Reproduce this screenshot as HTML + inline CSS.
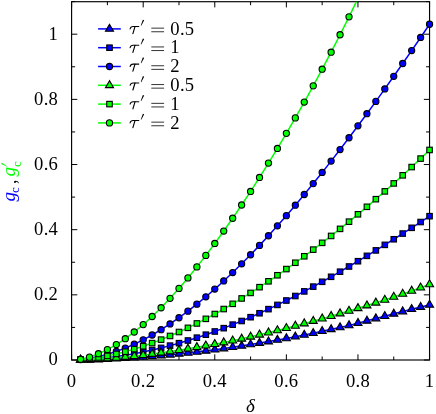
<!DOCTYPE html>
<html><head><meta charset="utf-8"><title>plot</title>
<style>
html,body{margin:0;padding:0;background:#fff;}
svg{display:block;will-change:transform;}
text{font-family:"Liberation Serif",serif;fill:#000;}
.n{letter-spacing:0.3px;}
</style></head><body>
<svg width="436" height="414" viewBox="0 0 436 414">
<rect x="0" y="0" width="436" height="414" fill="#fff"/>
<defs><clipPath id="cp"><rect x="71.60" y="1.70" width="357.95" height="358.30"/></clipPath></defs>
<g stroke="#000" stroke-width="1.00" fill="none" stroke-linecap="butt">
<path d="M71.60 360.00V354.30M71.60 1.70V7.40"/>
<path d="M107.40 360.00V356.50M107.40 1.70V5.20"/>
<path d="M143.19 360.00V354.30M143.19 1.70V7.40"/>
<path d="M178.99 360.00V356.50M178.99 1.70V5.20"/>
<path d="M214.78 360.00V354.30M214.78 1.70V7.40"/>
<path d="M250.58 360.00V356.50M250.58 1.70V5.20"/>
<path d="M286.37 360.00V354.30M286.37 1.70V7.40"/>
<path d="M322.17 360.00V356.50M322.17 1.70V5.20"/>
<path d="M357.96 360.00V354.30M357.96 1.70V7.40"/>
<path d="M393.75 360.00V356.50M393.75 1.70V5.20"/>
<path d="M429.55 360.00V354.30M429.55 1.70V7.40"/>
<path d="M71.60 360.00H77.30M429.55 360.00H423.85"/>
<path d="M71.60 327.42H75.10M429.55 327.42H426.05"/>
<path d="M71.60 294.84H77.30M429.55 294.84H423.85"/>
<path d="M71.60 262.26H75.10M429.55 262.26H426.05"/>
<path d="M71.60 229.68H77.30M429.55 229.68H423.85"/>
<path d="M71.60 197.10H75.10M429.55 197.10H426.05"/>
<path d="M71.60 164.52H77.30M429.55 164.52H423.85"/>
<path d="M71.60 131.94H75.10M429.55 131.94H426.05"/>
<path d="M71.60 99.36H77.30M429.55 99.36H423.85"/>
<path d="M71.60 66.78H75.10M429.55 66.78H426.05"/>
<path d="M71.60 34.20H77.30M429.55 34.20H423.85"/>
<path d="M71.60 1.62H75.10M429.55 1.62H426.05"/>
<rect x="71.60" y="1.70" width="357.95" height="358.30" stroke-width="1.15"/>
</g>
<polyline clip-path="url(#cp)" fill="none" stroke="#0000ff" stroke-width="1.50" points="80.55,359.84 89.50,359.80 98.45,359.53 107.40,359.17 116.34,358.70 125.29,358.21 134.24,357.57 143.19,356.90 152.14,356.25 161.09,355.57 170.04,354.75 178.99,353.84 187.93,352.88 196.88,351.88 205.83,350.81 214.78,349.69 223.73,348.53 232.68,347.23 241.63,345.86 250.58,344.43 259.52,343.03 268.47,341.56 277.42,340.00 286.37,338.37 295.32,336.72 304.27,334.98 313.22,333.14 322.17,331.20 331.11,329.32 340.06,327.38 349.01,325.37 357.96,323.12 366.91,320.83 375.86,318.51 384.81,316.20 393.75,313.85 402.70,311.53 411.65,309.25 420.60,307.06 429.55,304.97"/>
<g stroke="#000" stroke-width="1.10" stroke-linejoin="miter">
<polygon points="80.55,355.19 76.52,362.16 84.58,362.16" fill="#0000ff"/>
<polygon points="89.50,355.15 85.47,362.12 93.52,362.12" fill="#0000ff"/>
<polygon points="98.45,354.88 94.42,361.86 102.47,361.86" fill="#0000ff"/>
<polygon points="107.40,354.52 103.37,361.49 111.42,361.49" fill="#0000ff"/>
<polygon points="116.34,354.05 112.32,361.03 120.37,361.03" fill="#0000ff"/>
<polygon points="125.29,353.56 121.27,360.53 129.32,360.53" fill="#0000ff"/>
<polygon points="134.24,352.92 130.21,359.90 138.27,359.90" fill="#0000ff"/>
<polygon points="143.19,352.25 139.16,359.23 147.22,359.23" fill="#0000ff"/>
<polygon points="152.14,351.60 148.11,358.58 156.17,358.58" fill="#0000ff"/>
<polygon points="161.09,350.92 157.06,357.89 165.11,357.89" fill="#0000ff"/>
<polygon points="170.04,350.10 166.01,357.08 174.06,357.08" fill="#0000ff"/>
<polygon points="178.99,349.19 174.96,356.17 183.01,356.17" fill="#0000ff"/>
<polygon points="187.93,348.23 183.91,355.20 191.96,355.20" fill="#0000ff"/>
<polygon points="196.88,347.23 192.86,354.20 200.91,354.20" fill="#0000ff"/>
<polygon points="205.83,346.16 201.80,353.14 209.86,353.14" fill="#0000ff"/>
<polygon points="214.78,345.04 210.75,352.01 218.81,352.01" fill="#0000ff"/>
<polygon points="223.73,343.88 219.70,350.86 227.76,350.86" fill="#0000ff"/>
<polygon points="232.68,342.58 228.65,349.55 236.70,349.55" fill="#0000ff"/>
<polygon points="241.63,341.21 237.60,348.19 245.65,348.19" fill="#0000ff"/>
<polygon points="250.58,339.78 246.55,346.75 254.60,346.75" fill="#0000ff"/>
<polygon points="259.52,338.38 255.50,345.35 263.55,345.35" fill="#0000ff"/>
<polygon points="268.47,336.91 264.45,343.88 272.50,343.88" fill="#0000ff"/>
<polygon points="277.42,335.35 273.39,342.32 281.45,342.32" fill="#0000ff"/>
<polygon points="286.37,333.72 282.34,340.69 290.40,340.69" fill="#0000ff"/>
<polygon points="295.32,332.07 291.29,339.05 299.35,339.05" fill="#0000ff"/>
<polygon points="304.27,330.33 300.24,337.30 308.29,337.30" fill="#0000ff"/>
<polygon points="313.22,328.49 309.19,335.46 317.24,335.46" fill="#0000ff"/>
<polygon points="322.17,326.55 318.14,333.52 326.19,333.52" fill="#0000ff"/>
<polygon points="331.11,324.67 327.09,331.65 335.14,331.65" fill="#0000ff"/>
<polygon points="340.06,322.73 336.04,329.70 344.09,329.70" fill="#0000ff"/>
<polygon points="349.01,320.72 344.98,327.69 353.04,327.69" fill="#0000ff"/>
<polygon points="357.96,318.47 353.93,325.44 361.99,325.44" fill="#0000ff"/>
<polygon points="366.91,316.18 362.88,323.16 370.94,323.16" fill="#0000ff"/>
<polygon points="375.86,313.86 371.83,320.84 379.88,320.84" fill="#0000ff"/>
<polygon points="384.81,311.55 380.78,318.52 388.83,318.52" fill="#0000ff"/>
<polygon points="393.75,309.20 389.73,316.17 397.78,316.17" fill="#0000ff"/>
<polygon points="402.70,306.88 398.68,313.86 406.73,313.86" fill="#0000ff"/>
<polygon points="411.65,304.60 407.63,311.57 415.68,311.57" fill="#0000ff"/>
<polygon points="420.60,302.41 416.57,309.39 424.63,309.39" fill="#0000ff"/>
<polygon points="429.55,300.32 425.52,307.30 433.58,307.30" fill="#0000ff"/>
</g>
<polyline clip-path="url(#cp)" fill="none" stroke="#0000ff" stroke-width="1.50" points="80.55,359.74 89.50,359.22 98.45,358.53 107.40,357.62 116.34,356.51 125.29,355.18 134.24,353.65 143.19,351.95 152.14,350.03 161.09,347.91 170.04,345.63 178.99,343.16 187.93,340.52 196.88,337.68 205.83,334.69 214.78,331.49 223.73,328.17 232.68,324.65 241.63,321.00 250.58,317.19 259.52,313.25 268.47,309.14 277.42,304.91 286.37,300.51 295.32,296.01 304.27,291.39 313.22,286.63 322.17,281.78 331.11,276.79 340.06,271.71 349.01,266.50 357.96,261.22 366.91,255.84 375.86,250.40 384.81,244.86 393.75,239.26 402.70,233.56 411.65,227.82 420.60,222.02 429.55,216.19"/>
<g stroke="#000" stroke-width="1.10" stroke-linejoin="miter">
<rect x="77.80" y="356.99" width="5.50" height="5.50" fill="#0000ff"/>
<rect x="86.75" y="356.47" width="5.50" height="5.50" fill="#0000ff"/>
<rect x="95.70" y="355.78" width="5.50" height="5.50" fill="#0000ff"/>
<rect x="104.65" y="354.87" width="5.50" height="5.50" fill="#0000ff"/>
<rect x="113.59" y="353.76" width="5.50" height="5.50" fill="#0000ff"/>
<rect x="122.54" y="352.43" width="5.50" height="5.50" fill="#0000ff"/>
<rect x="131.49" y="350.90" width="5.50" height="5.50" fill="#0000ff"/>
<rect x="140.44" y="349.20" width="5.50" height="5.50" fill="#0000ff"/>
<rect x="149.39" y="347.28" width="5.50" height="5.50" fill="#0000ff"/>
<rect x="158.34" y="345.16" width="5.50" height="5.50" fill="#0000ff"/>
<rect x="167.29" y="342.88" width="5.50" height="5.50" fill="#0000ff"/>
<rect x="176.24" y="340.41" width="5.50" height="5.50" fill="#0000ff"/>
<rect x="185.18" y="337.77" width="5.50" height="5.50" fill="#0000ff"/>
<rect x="194.13" y="334.93" width="5.50" height="5.50" fill="#0000ff"/>
<rect x="203.08" y="331.94" width="5.50" height="5.50" fill="#0000ff"/>
<rect x="212.03" y="328.74" width="5.50" height="5.50" fill="#0000ff"/>
<rect x="220.98" y="325.42" width="5.50" height="5.50" fill="#0000ff"/>
<rect x="229.93" y="321.90" width="5.50" height="5.50" fill="#0000ff"/>
<rect x="238.88" y="318.25" width="5.50" height="5.50" fill="#0000ff"/>
<rect x="247.83" y="314.44" width="5.50" height="5.50" fill="#0000ff"/>
<rect x="256.77" y="310.50" width="5.50" height="5.50" fill="#0000ff"/>
<rect x="265.72" y="306.39" width="5.50" height="5.50" fill="#0000ff"/>
<rect x="274.67" y="302.16" width="5.50" height="5.50" fill="#0000ff"/>
<rect x="283.62" y="297.76" width="5.50" height="5.50" fill="#0000ff"/>
<rect x="292.57" y="293.26" width="5.50" height="5.50" fill="#0000ff"/>
<rect x="301.52" y="288.64" width="5.50" height="5.50" fill="#0000ff"/>
<rect x="310.47" y="283.88" width="5.50" height="5.50" fill="#0000ff"/>
<rect x="319.42" y="279.03" width="5.50" height="5.50" fill="#0000ff"/>
<rect x="328.36" y="274.04" width="5.50" height="5.50" fill="#0000ff"/>
<rect x="337.31" y="268.96" width="5.50" height="5.50" fill="#0000ff"/>
<rect x="346.26" y="263.75" width="5.50" height="5.50" fill="#0000ff"/>
<rect x="355.21" y="258.47" width="5.50" height="5.50" fill="#0000ff"/>
<rect x="364.16" y="253.09" width="5.50" height="5.50" fill="#0000ff"/>
<rect x="373.11" y="247.65" width="5.50" height="5.50" fill="#0000ff"/>
<rect x="382.06" y="242.11" width="5.50" height="5.50" fill="#0000ff"/>
<rect x="391.00" y="236.51" width="5.50" height="5.50" fill="#0000ff"/>
<rect x="399.95" y="230.81" width="5.50" height="5.50" fill="#0000ff"/>
<rect x="408.90" y="225.07" width="5.50" height="5.50" fill="#0000ff"/>
<rect x="417.85" y="219.27" width="5.50" height="5.50" fill="#0000ff"/>
<rect x="426.80" y="213.44" width="5.50" height="5.50" fill="#0000ff"/>
</g>
<polyline clip-path="url(#cp)" fill="none" stroke="#0000ff" stroke-width="1.50" points="80.55,359.48 89.50,358.34 98.45,356.61 107.40,354.33 116.34,351.50 125.29,348.11 134.24,344.23 143.19,339.87 152.14,335.01 161.09,329.70 170.04,323.93 178.99,317.74 187.93,311.16 196.88,304.16 205.83,296.79 214.78,289.07 223.73,280.96 232.68,272.56 241.63,263.79 250.58,254.73 259.52,245.38 268.47,235.74 277.42,225.80 286.37,215.64 295.32,205.18 304.27,194.49 313.22,183.58 322.17,172.44 331.11,161.10 340.06,149.53 349.01,137.77 357.96,125.81 366.91,113.70 375.86,101.41 384.81,88.93 393.75,76.29 402.70,63.49 411.65,50.56 420.60,37.46 429.55,24.23"/>
<g stroke="#000" stroke-width="1.10" stroke-linejoin="miter">
<circle cx="80.55" cy="359.48" r="3.10" fill="#0000ff"/>
<circle cx="89.50" cy="358.34" r="3.10" fill="#0000ff"/>
<circle cx="98.45" cy="356.61" r="3.10" fill="#0000ff"/>
<circle cx="107.40" cy="354.33" r="3.10" fill="#0000ff"/>
<circle cx="116.34" cy="351.50" r="3.10" fill="#0000ff"/>
<circle cx="125.29" cy="348.11" r="3.10" fill="#0000ff"/>
<circle cx="134.24" cy="344.23" r="3.10" fill="#0000ff"/>
<circle cx="143.19" cy="339.87" r="3.10" fill="#0000ff"/>
<circle cx="152.14" cy="335.01" r="3.10" fill="#0000ff"/>
<circle cx="161.09" cy="329.70" r="3.10" fill="#0000ff"/>
<circle cx="170.04" cy="323.93" r="3.10" fill="#0000ff"/>
<circle cx="178.99" cy="317.74" r="3.10" fill="#0000ff"/>
<circle cx="187.93" cy="311.16" r="3.10" fill="#0000ff"/>
<circle cx="196.88" cy="304.16" r="3.10" fill="#0000ff"/>
<circle cx="205.83" cy="296.79" r="3.10" fill="#0000ff"/>
<circle cx="214.78" cy="289.07" r="3.10" fill="#0000ff"/>
<circle cx="223.73" cy="280.96" r="3.10" fill="#0000ff"/>
<circle cx="232.68" cy="272.56" r="3.10" fill="#0000ff"/>
<circle cx="241.63" cy="263.79" r="3.10" fill="#0000ff"/>
<circle cx="250.58" cy="254.73" r="3.10" fill="#0000ff"/>
<circle cx="259.52" cy="245.38" r="3.10" fill="#0000ff"/>
<circle cx="268.47" cy="235.74" r="3.10" fill="#0000ff"/>
<circle cx="277.42" cy="225.80" r="3.10" fill="#0000ff"/>
<circle cx="286.37" cy="215.64" r="3.10" fill="#0000ff"/>
<circle cx="295.32" cy="205.18" r="3.10" fill="#0000ff"/>
<circle cx="304.27" cy="194.49" r="3.10" fill="#0000ff"/>
<circle cx="313.22" cy="183.58" r="3.10" fill="#0000ff"/>
<circle cx="322.17" cy="172.44" r="3.10" fill="#0000ff"/>
<circle cx="331.11" cy="161.10" r="3.10" fill="#0000ff"/>
<circle cx="340.06" cy="149.53" r="3.10" fill="#0000ff"/>
<circle cx="349.01" cy="137.77" r="3.10" fill="#0000ff"/>
<circle cx="357.96" cy="125.81" r="3.10" fill="#0000ff"/>
<circle cx="366.91" cy="113.70" r="3.10" fill="#0000ff"/>
<circle cx="375.86" cy="101.41" r="3.10" fill="#0000ff"/>
<circle cx="384.81" cy="88.93" r="3.10" fill="#0000ff"/>
<circle cx="393.75" cy="76.29" r="3.10" fill="#0000ff"/>
<circle cx="402.70" cy="63.49" r="3.10" fill="#0000ff"/>
<circle cx="411.65" cy="50.56" r="3.10" fill="#0000ff"/>
<circle cx="420.60" cy="37.46" r="3.10" fill="#0000ff"/>
<circle cx="429.55" cy="24.23" r="3.10" fill="#0000ff"/>
</g>
<polyline clip-path="url(#cp)" fill="none" stroke="#00ff00" stroke-width="1.50" points="80.55,359.84 89.50,359.61 98.45,359.15 107.40,358.57 116.34,357.88 125.29,357.07 134.24,356.17 143.19,355.15 152.14,354.02 161.09,352.80 170.04,351.53 178.99,350.16 187.93,348.78 196.88,347.27 205.83,345.70 214.78,344.13 223.73,342.50 232.68,340.67 241.63,338.80 250.58,336.84 259.52,334.75 268.47,332.60 277.42,330.42 286.37,328.17 295.32,325.86 304.27,323.51 313.22,321.10 322.17,318.62 331.11,316.11 340.06,313.54 349.01,310.93 357.96,308.26 366.91,305.56 375.86,302.76 384.81,299.89 393.75,296.99 402.70,293.96 411.65,290.87 420.60,287.70 429.55,284.41"/>
<g stroke="#000" stroke-width="1.10" stroke-linejoin="miter">
<polygon points="80.55,355.19 76.52,362.16 84.58,362.16" fill="#00ff00"/>
<polygon points="89.50,354.96 85.47,361.93 93.52,361.93" fill="#00ff00"/>
<polygon points="98.45,354.50 94.42,361.48 102.47,361.48" fill="#00ff00"/>
<polygon points="107.40,353.92 103.37,360.89 111.42,360.89" fill="#00ff00"/>
<polygon points="116.34,353.23 112.32,360.21 120.37,360.21" fill="#00ff00"/>
<polygon points="125.29,352.42 121.27,359.39 129.32,359.39" fill="#00ff00"/>
<polygon points="134.24,351.52 130.21,358.50 138.27,358.50" fill="#00ff00"/>
<polygon points="143.19,350.50 139.16,357.47 147.22,357.47" fill="#00ff00"/>
<polygon points="152.14,349.37 148.11,356.35 156.17,356.35" fill="#00ff00"/>
<polygon points="161.09,348.15 157.06,355.12 165.11,355.12" fill="#00ff00"/>
<polygon points="170.04,346.88 166.01,353.85 174.06,353.85" fill="#00ff00"/>
<polygon points="178.99,345.51 174.96,352.49 183.01,352.49" fill="#00ff00"/>
<polygon points="187.93,344.13 183.91,351.11 191.96,351.11" fill="#00ff00"/>
<polygon points="196.88,342.62 192.86,349.60 200.91,349.60" fill="#00ff00"/>
<polygon points="205.83,341.05 201.80,348.02 209.86,348.02" fill="#00ff00"/>
<polygon points="214.78,339.48 210.75,346.46 218.81,346.46" fill="#00ff00"/>
<polygon points="223.73,337.85 219.70,344.83 227.76,344.83" fill="#00ff00"/>
<polygon points="232.68,336.02 228.65,342.99 236.70,342.99" fill="#00ff00"/>
<polygon points="241.63,334.15 237.60,341.13 245.65,341.13" fill="#00ff00"/>
<polygon points="250.58,332.19 246.55,339.16 254.60,339.16" fill="#00ff00"/>
<polygon points="259.52,330.10 255.50,337.08 263.55,337.08" fill="#00ff00"/>
<polygon points="268.47,327.95 264.45,334.93 272.50,334.93" fill="#00ff00"/>
<polygon points="277.42,325.77 273.39,332.74 281.45,332.74" fill="#00ff00"/>
<polygon points="286.37,323.52 282.34,330.49 290.40,330.49" fill="#00ff00"/>
<polygon points="295.32,321.21 291.29,328.18 299.35,328.18" fill="#00ff00"/>
<polygon points="304.27,318.86 300.24,325.84 308.29,325.84" fill="#00ff00"/>
<polygon points="313.22,316.45 309.19,323.42 317.24,323.42" fill="#00ff00"/>
<polygon points="322.17,313.97 318.14,320.95 326.19,320.95" fill="#00ff00"/>
<polygon points="331.11,311.46 327.09,318.44 335.14,318.44" fill="#00ff00"/>
<polygon points="340.06,308.89 336.04,315.87 344.09,315.87" fill="#00ff00"/>
<polygon points="349.01,306.28 344.98,313.26 353.04,313.26" fill="#00ff00"/>
<polygon points="357.96,303.61 353.93,310.59 361.99,310.59" fill="#00ff00"/>
<polygon points="366.91,300.91 362.88,307.88 370.94,307.88" fill="#00ff00"/>
<polygon points="375.86,298.11 371.83,305.08 379.88,305.08" fill="#00ff00"/>
<polygon points="384.81,295.24 380.78,302.21 388.83,302.21" fill="#00ff00"/>
<polygon points="393.75,292.34 389.73,299.32 397.78,299.32" fill="#00ff00"/>
<polygon points="402.70,289.31 398.68,296.29 406.73,296.29" fill="#00ff00"/>
<polygon points="411.65,286.22 407.63,293.19 415.68,293.19" fill="#00ff00"/>
<polygon points="420.60,283.05 416.57,290.03 424.63,290.03" fill="#00ff00"/>
<polygon points="429.55,279.76 425.52,286.74 433.58,286.74" fill="#00ff00"/>
</g>
<polyline clip-path="url(#cp)" fill="none" stroke="#00ff00" stroke-width="1.50" points="80.55,359.54 89.50,358.70 98.45,357.49 107.40,355.89 116.34,353.94 125.29,351.69 134.24,349.12 143.19,346.25 152.14,343.09 161.09,339.64 170.04,335.96 178.99,332.01 187.93,327.84 196.88,323.45 205.83,318.85 214.78,314.03 223.73,309.04 232.68,303.83 241.63,298.46 250.58,292.92 259.52,287.18 268.47,281.32 277.42,275.26 286.37,269.07 295.32,262.75 304.27,256.27 313.22,249.62 322.17,242.84 331.11,235.94 340.06,228.87 349.01,221.67 357.96,214.30 366.91,206.81 375.86,199.19 384.81,191.37 393.75,183.42 402.70,175.34 411.65,167.06 420.60,158.59 429.55,149.96"/>
<g stroke="#000" stroke-width="1.10" stroke-linejoin="miter">
<rect x="77.80" y="356.79" width="5.50" height="5.50" fill="#00ff00"/>
<rect x="86.75" y="355.95" width="5.50" height="5.50" fill="#00ff00"/>
<rect x="95.70" y="354.74" width="5.50" height="5.50" fill="#00ff00"/>
<rect x="104.65" y="353.14" width="5.50" height="5.50" fill="#00ff00"/>
<rect x="113.59" y="351.19" width="5.50" height="5.50" fill="#00ff00"/>
<rect x="122.54" y="348.94" width="5.50" height="5.50" fill="#00ff00"/>
<rect x="131.49" y="346.37" width="5.50" height="5.50" fill="#00ff00"/>
<rect x="140.44" y="343.50" width="5.50" height="5.50" fill="#00ff00"/>
<rect x="149.39" y="340.34" width="5.50" height="5.50" fill="#00ff00"/>
<rect x="158.34" y="336.89" width="5.50" height="5.50" fill="#00ff00"/>
<rect x="167.29" y="333.21" width="5.50" height="5.50" fill="#00ff00"/>
<rect x="176.24" y="329.26" width="5.50" height="5.50" fill="#00ff00"/>
<rect x="185.18" y="325.09" width="5.50" height="5.50" fill="#00ff00"/>
<rect x="194.13" y="320.70" width="5.50" height="5.50" fill="#00ff00"/>
<rect x="203.08" y="316.10" width="5.50" height="5.50" fill="#00ff00"/>
<rect x="212.03" y="311.28" width="5.50" height="5.50" fill="#00ff00"/>
<rect x="220.98" y="306.29" width="5.50" height="5.50" fill="#00ff00"/>
<rect x="229.93" y="301.08" width="5.50" height="5.50" fill="#00ff00"/>
<rect x="238.88" y="295.71" width="5.50" height="5.50" fill="#00ff00"/>
<rect x="247.83" y="290.17" width="5.50" height="5.50" fill="#00ff00"/>
<rect x="256.77" y="284.43" width="5.50" height="5.50" fill="#00ff00"/>
<rect x="265.72" y="278.57" width="5.50" height="5.50" fill="#00ff00"/>
<rect x="274.67" y="272.51" width="5.50" height="5.50" fill="#00ff00"/>
<rect x="283.62" y="266.32" width="5.50" height="5.50" fill="#00ff00"/>
<rect x="292.57" y="260.00" width="5.50" height="5.50" fill="#00ff00"/>
<rect x="301.52" y="253.52" width="5.50" height="5.50" fill="#00ff00"/>
<rect x="310.47" y="246.87" width="5.50" height="5.50" fill="#00ff00"/>
<rect x="319.42" y="240.09" width="5.50" height="5.50" fill="#00ff00"/>
<rect x="328.36" y="233.19" width="5.50" height="5.50" fill="#00ff00"/>
<rect x="337.31" y="226.12" width="5.50" height="5.50" fill="#00ff00"/>
<rect x="346.26" y="218.92" width="5.50" height="5.50" fill="#00ff00"/>
<rect x="355.21" y="211.55" width="5.50" height="5.50" fill="#00ff00"/>
<rect x="364.16" y="204.06" width="5.50" height="5.50" fill="#00ff00"/>
<rect x="373.11" y="196.44" width="5.50" height="5.50" fill="#00ff00"/>
<rect x="382.06" y="188.62" width="5.50" height="5.50" fill="#00ff00"/>
<rect x="391.00" y="180.67" width="5.50" height="5.50" fill="#00ff00"/>
<rect x="399.95" y="172.59" width="5.50" height="5.50" fill="#00ff00"/>
<rect x="408.90" y="164.31" width="5.50" height="5.50" fill="#00ff00"/>
<rect x="417.85" y="155.84" width="5.50" height="5.50" fill="#00ff00"/>
<rect x="426.80" y="147.21" width="5.50" height="5.50" fill="#00ff00"/>
</g>
<polyline clip-path="url(#cp)" fill="none" stroke="#00ff00" stroke-width="1.50" points="80.55,359.28 89.50,357.17 98.45,353.71 107.40,349.57 116.34,344.56 125.29,338.69 134.24,332.01 143.19,324.62 152.14,316.51 161.09,307.74 170.04,298.36 178.99,288.39 187.93,277.90 196.88,266.89 205.83,255.39 214.78,243.43 223.73,231.05 232.68,218.24 241.63,205.02 250.58,191.43 259.52,177.45 268.47,163.12 277.42,148.43 286.37,133.34 295.32,117.90 304.27,102.06 313.22,85.84 322.17,69.22 331.11,52.22 340.06,34.75 349.01,16.83 357.96,-1.54 366.91,-20.44 375.86,-39.89 384.81,-59.89 393.75,-80.51 402.70,-101.79 411.65,-123.75 420.60,-146.46 429.55,-169.95"/>
<g stroke="#000" stroke-width="1.10" stroke-linejoin="miter">
<circle cx="80.55" cy="359.28" r="3.10" fill="#00ff00"/>
<circle cx="89.50" cy="357.17" r="3.10" fill="#00ff00"/>
<circle cx="98.45" cy="353.71" r="3.10" fill="#00ff00"/>
<circle cx="107.40" cy="349.57" r="3.10" fill="#00ff00"/>
<circle cx="116.34" cy="344.56" r="3.10" fill="#00ff00"/>
<circle cx="125.29" cy="338.69" r="3.10" fill="#00ff00"/>
<circle cx="134.24" cy="332.01" r="3.10" fill="#00ff00"/>
<circle cx="143.19" cy="324.62" r="3.10" fill="#00ff00"/>
<circle cx="152.14" cy="316.51" r="3.10" fill="#00ff00"/>
<circle cx="161.09" cy="307.74" r="3.10" fill="#00ff00"/>
<circle cx="170.04" cy="298.36" r="3.10" fill="#00ff00"/>
<circle cx="178.99" cy="288.39" r="3.10" fill="#00ff00"/>
<circle cx="187.93" cy="277.90" r="3.10" fill="#00ff00"/>
<circle cx="196.88" cy="266.89" r="3.10" fill="#00ff00"/>
<circle cx="205.83" cy="255.39" r="3.10" fill="#00ff00"/>
<circle cx="214.78" cy="243.43" r="3.10" fill="#00ff00"/>
<circle cx="223.73" cy="231.05" r="3.10" fill="#00ff00"/>
<circle cx="232.68" cy="218.24" r="3.10" fill="#00ff00"/>
<circle cx="241.63" cy="205.02" r="3.10" fill="#00ff00"/>
<circle cx="250.58" cy="191.43" r="3.10" fill="#00ff00"/>
<circle cx="259.52" cy="177.45" r="3.10" fill="#00ff00"/>
<circle cx="268.47" cy="163.12" r="3.10" fill="#00ff00"/>
<circle cx="277.42" cy="148.43" r="3.10" fill="#00ff00"/>
<circle cx="286.37" cy="133.34" r="3.10" fill="#00ff00"/>
<circle cx="295.32" cy="117.90" r="3.10" fill="#00ff00"/>
<circle cx="304.27" cy="102.06" r="3.10" fill="#00ff00"/>
<circle cx="313.22" cy="85.84" r="3.10" fill="#00ff00"/>
<circle cx="322.17" cy="69.22" r="3.10" fill="#00ff00"/>
<circle cx="331.11" cy="52.22" r="3.10" fill="#00ff00"/>
<circle cx="340.06" cy="34.75" r="3.10" fill="#00ff00"/>
<circle cx="349.01" cy="16.83" r="3.10" fill="#00ff00"/>
</g>
<line x1="98.10" y1="28.90" x2="120.80" y2="28.90" stroke="#0000ff" stroke-width="1.50"/>
<g stroke="#000" stroke-width="1.10"><polygon points="109.50,24.25 105.47,31.22 113.53,31.22" fill="#0000ff"/></g>
<g transform="translate(0,0.00)"><path d="M130.1 28.9C130.5 27.3 131.4 26.5 133 26.5L138.8 26.5" fill="none" stroke="#000" stroke-width="1.05" stroke-linecap="round"/><path d="M135.0 26.6L132.9 33.6" fill="none" stroke="#000" stroke-width="1.15" stroke-linecap="round"/><path d="M142.9 19.7L144.2 20.3L141.25 25.75L140.75 25.5Z" fill="#000"/></g>
<path d="M151.3 28.15H164.1M151.3 31.75H164.1" stroke="#000" stroke-width="0.8" fill="none"/>
<text class="n" x="170.3" y="34.50" font-size="18.6">0.5</text>
<line x1="98.10" y1="47.70" x2="120.80" y2="47.70" stroke="#0000ff" stroke-width="1.50"/>
<g stroke="#000" stroke-width="1.10"><rect x="106.75" y="44.95" width="5.50" height="5.50" fill="#0000ff"/></g>
<g transform="translate(0,18.80)"><path d="M130.1 28.9C130.5 27.3 131.4 26.5 133 26.5L138.8 26.5" fill="none" stroke="#000" stroke-width="1.05" stroke-linecap="round"/><path d="M135.0 26.6L132.9 33.6" fill="none" stroke="#000" stroke-width="1.15" stroke-linecap="round"/><path d="M142.9 19.7L144.2 20.3L141.25 25.75L140.75 25.5Z" fill="#000"/></g>
<path d="M151.3 46.95H164.1M151.3 50.55H164.1" stroke="#000" stroke-width="0.8" fill="none"/>
<text class="n" x="170.3" y="53.30" font-size="18.6">1</text>
<line x1="98.10" y1="66.50" x2="120.80" y2="66.50" stroke="#0000ff" stroke-width="1.50"/>
<g stroke="#000" stroke-width="1.10"><circle cx="109.50" cy="66.50" r="3.10" fill="#0000ff"/></g>
<g transform="translate(0,37.60)"><path d="M130.1 28.9C130.5 27.3 131.4 26.5 133 26.5L138.8 26.5" fill="none" stroke="#000" stroke-width="1.05" stroke-linecap="round"/><path d="M135.0 26.6L132.9 33.6" fill="none" stroke="#000" stroke-width="1.15" stroke-linecap="round"/><path d="M142.9 19.7L144.2 20.3L141.25 25.75L140.75 25.5Z" fill="#000"/></g>
<path d="M151.3 65.75H164.1M151.3 69.35H164.1" stroke="#000" stroke-width="0.8" fill="none"/>
<text class="n" x="170.3" y="72.10" font-size="18.6">2</text>
<line x1="98.10" y1="85.30" x2="120.80" y2="85.30" stroke="#00ff00" stroke-width="1.50"/>
<g stroke="#000" stroke-width="1.10"><polygon points="109.50,80.65 105.47,87.63 113.53,87.63" fill="#00ff00"/></g>
<g transform="translate(0,56.40)"><path d="M130.1 28.9C130.5 27.3 131.4 26.5 133 26.5L138.8 26.5" fill="none" stroke="#000" stroke-width="1.05" stroke-linecap="round"/><path d="M135.0 26.6L132.9 33.6" fill="none" stroke="#000" stroke-width="1.15" stroke-linecap="round"/><path d="M142.9 19.7L144.2 20.3L141.25 25.75L140.75 25.5Z" fill="#000"/></g>
<path d="M151.3 84.55H164.1M151.3 88.15H164.1" stroke="#000" stroke-width="0.8" fill="none"/>
<text class="n" x="170.3" y="90.90" font-size="18.6">0.5</text>
<line x1="98.10" y1="104.10" x2="120.80" y2="104.10" stroke="#00ff00" stroke-width="1.50"/>
<g stroke="#000" stroke-width="1.10"><rect x="106.75" y="101.35" width="5.50" height="5.50" fill="#00ff00"/></g>
<g transform="translate(0,75.20)"><path d="M130.1 28.9C130.5 27.3 131.4 26.5 133 26.5L138.8 26.5" fill="none" stroke="#000" stroke-width="1.05" stroke-linecap="round"/><path d="M135.0 26.6L132.9 33.6" fill="none" stroke="#000" stroke-width="1.15" stroke-linecap="round"/><path d="M142.9 19.7L144.2 20.3L141.25 25.75L140.75 25.5Z" fill="#000"/></g>
<path d="M151.3 103.35H164.1M151.3 106.95H164.1" stroke="#000" stroke-width="0.8" fill="none"/>
<text class="n" x="170.3" y="109.70" font-size="18.6">1</text>
<line x1="98.10" y1="122.90" x2="120.80" y2="122.90" stroke="#00ff00" stroke-width="1.50"/>
<g stroke="#000" stroke-width="1.10"><circle cx="109.50" cy="122.90" r="3.10" fill="#00ff00"/></g>
<g transform="translate(0,94.00)"><path d="M130.1 28.9C130.5 27.3 131.4 26.5 133 26.5L138.8 26.5" fill="none" stroke="#000" stroke-width="1.05" stroke-linecap="round"/><path d="M135.0 26.6L132.9 33.6" fill="none" stroke="#000" stroke-width="1.15" stroke-linecap="round"/><path d="M142.9 19.7L144.2 20.3L141.25 25.75L140.75 25.5Z" fill="#000"/></g>
<path d="M151.3 122.15H164.1M151.3 125.75H164.1" stroke="#000" stroke-width="0.8" fill="none"/>
<text class="n" x="170.3" y="128.50" font-size="18.6">2</text>
<text class="n" x="71.60" y="386.7" font-size="18.6" text-anchor="middle">0</text>
<text class="n" x="143.19" y="386.7" font-size="18.6" text-anchor="middle">0.2</text>
<text class="n" x="214.78" y="386.7" font-size="18.6" text-anchor="middle">0.4</text>
<text class="n" x="286.37" y="386.7" font-size="18.6" text-anchor="middle">0.6</text>
<text class="n" x="357.96" y="386.7" font-size="18.6" text-anchor="middle">0.8</text>
<text class="n" x="429.55" y="386.7" font-size="18.6" text-anchor="middle">1</text>
<text class="n" x="58.2" y="365.30" font-size="18.6" text-anchor="end">0</text>
<text class="n" x="58.2" y="300.14" font-size="18.6" text-anchor="end">0.2</text>
<text class="n" x="58.2" y="234.98" font-size="18.6" text-anchor="end">0.4</text>
<text class="n" x="58.2" y="169.82" font-size="18.6" text-anchor="end">0.6</text>
<text class="n" x="58.2" y="104.66" font-size="18.6" text-anchor="end">0.8</text>
<text class="n" x="58.2" y="39.50" font-size="18.6" text-anchor="end">1</text>
<text x="250.5" y="412.2" font-size="19" font-style="italic" text-anchor="middle">δ</text>
<g transform="translate(15.3,201.5) rotate(-90)">
<text x="0" y="0" font-size="19" font-style="italic" style="fill:#0000ff">g</text>
<text x="8.4" y="3.8" font-size="13" style="fill:#0000ff">c</text>
<text x="17.4" y="0.3" font-size="18">,</text>
<text x="25.0" y="0" font-size="19" font-style="italic" style="fill:#00ff00">g</text>
<text x="34.5" y="5.3" font-size="13" style="fill:#00ff00">c</text>
<path d="M38.81 -13.46L37.59 -14.14L34.68 -7.92L35.12 -7.68Z" fill="#00ff00"/>
</g>
</svg></body></html>
